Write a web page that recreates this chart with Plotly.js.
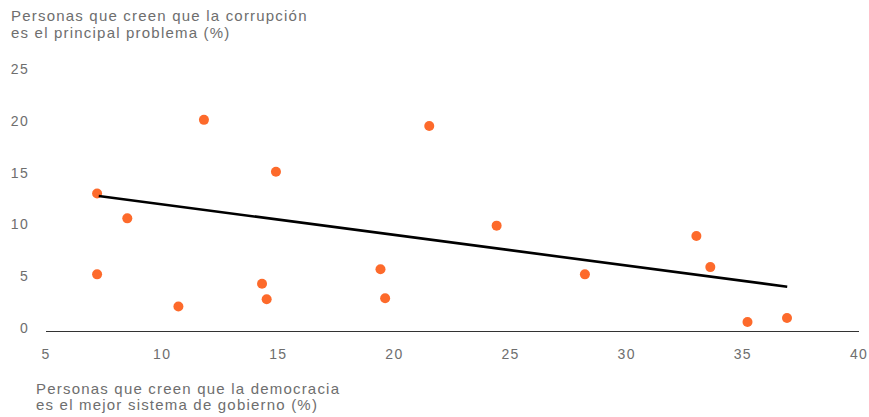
<!DOCTYPE html>
<html>
<head>
<meta charset="utf-8">
<script src="https://cdn.plot.ly/plotly-3.0.1.min.js"></script>
<style>
  html, body { margin: 0; padding: 0; background: #fff; }
  #chart { width: 869px; height: 417px; }
  .main-svg .annotation-text { letter-spacing: 1.2px; }
  .main-svg .xtick text, .main-svg .ytick text { letter-spacing: 1.3px; }
</style>
</head>
<body>
<div id="chart"></div>
<script>
// Personas que creen que la democracia es el mejor sistema de gobierno (%)
const democracia = [7.2, 7.2, 8.5, 10.7, 11.8, 14.3, 14.5, 14.9, 19.4, 19.6, 21.5, 24.4, 28.2, 33.0, 33.6, 35.2, 36.9];
// Personas que creen que la corrupción es el principal problema (%)
const corrupcion = [13.0, 5.2, 10.6, 2.1, 20.1, 4.3, 2.8, 15.1, 5.7, 2.9, 19.5, 9.9, 5.2, 8.9, 5.9, 0.6, 1.0];
// Línea de tendencia
const trendX = [7.27, 36.91];
const trendY = [12.76, 4.01];

const xTicks = [5, 10, 15, 20, 25, 30, 35, 40];
const yTicks = [0, 5, 10, 15, 20, 25];

const yTitle = ["Personas que creen que la corrupción", "es el principal problema (%)"];
const xTitle = ["Personas que creen que la democracia", "es el mejor sistema de gobierno (%)"];

const FONT = "Liberation Sans, Arial, Helvetica, sans-serif";
const GREY = "#6e6e6e";

const W = 869, H = 417;
const M = {l: 46, r: 10, t: 60, b: 86};
const pw = W - M.l - M.r, ph = H - M.t - M.b;
const px = v => (v - M.l) / pw;
const py = v => (H - M.b - v) / ph;

const traces = [
  {
    type: "scatter", mode: "markers",
    x: democracia, y: corrupcion,
    marker: {color: "#fd6a2b", size: 10},
    hoverinfo: "x+y", showlegend: false
  },
  {
    type: "scatter", mode: "lines",
    x: trendX, y: trendY,
    line: {color: "#000000", width: 2.6},
    hoverinfo: "skip", showlegend: false
  }
];

function titleAnn(text, xPix, yPix) {
  return {
    text: text, xref: "paper", yref: "paper",
    x: px(xPix), y: py(yPix), xanchor: "left", yanchor: "middle", align: "left",
    borderpad: 0,
    showarrow: false, font: {family: FONT, size: 15, color: GREY}
  };
}

const layout = {
  width: W, height: H,
  margin: M,
  paper_bgcolor: "#ffffff", plot_bgcolor: "#ffffff",
  font: {family: FONT, color: GREY, size: 14},
  xaxis: {
    range: [5, 40], tickvals: xTicks, ticktext: xTicks.map(String),
    showgrid: false, zeroline: false,
    showline: true, linecolor: "#333333", linewidth: 1,
    ticks: "", ticklabelstandoff: 10,
    tickfont: {family: FONT, size: 14, color: GREY},
    fixedrange: true
  },
  yaxis: {
    range: [-0.26, 25.87], tickvals: yTicks, ticktext: yTicks.map(String),
    showgrid: false, zeroline: false, showline: false,
    ticks: "", ticklabelstandoff: 16,
    tickfont: {family: FONT, size: 14, color: GREY},
    fixedrange: true
  },
  annotations: [
    titleAnn(yTitle[0], 10, 16),
    titleAnn(yTitle[1], 10, 32.5),
    titleAnn(xTitle[0], 35, 388),
    titleAnn(xTitle[1], 35, 404.5)
  ],
  showlegend: false
};

Plotly.newPlot("chart", traces, layout, {displayModeBar: false, staticPlot: true});
</script>
</body>
</html>
